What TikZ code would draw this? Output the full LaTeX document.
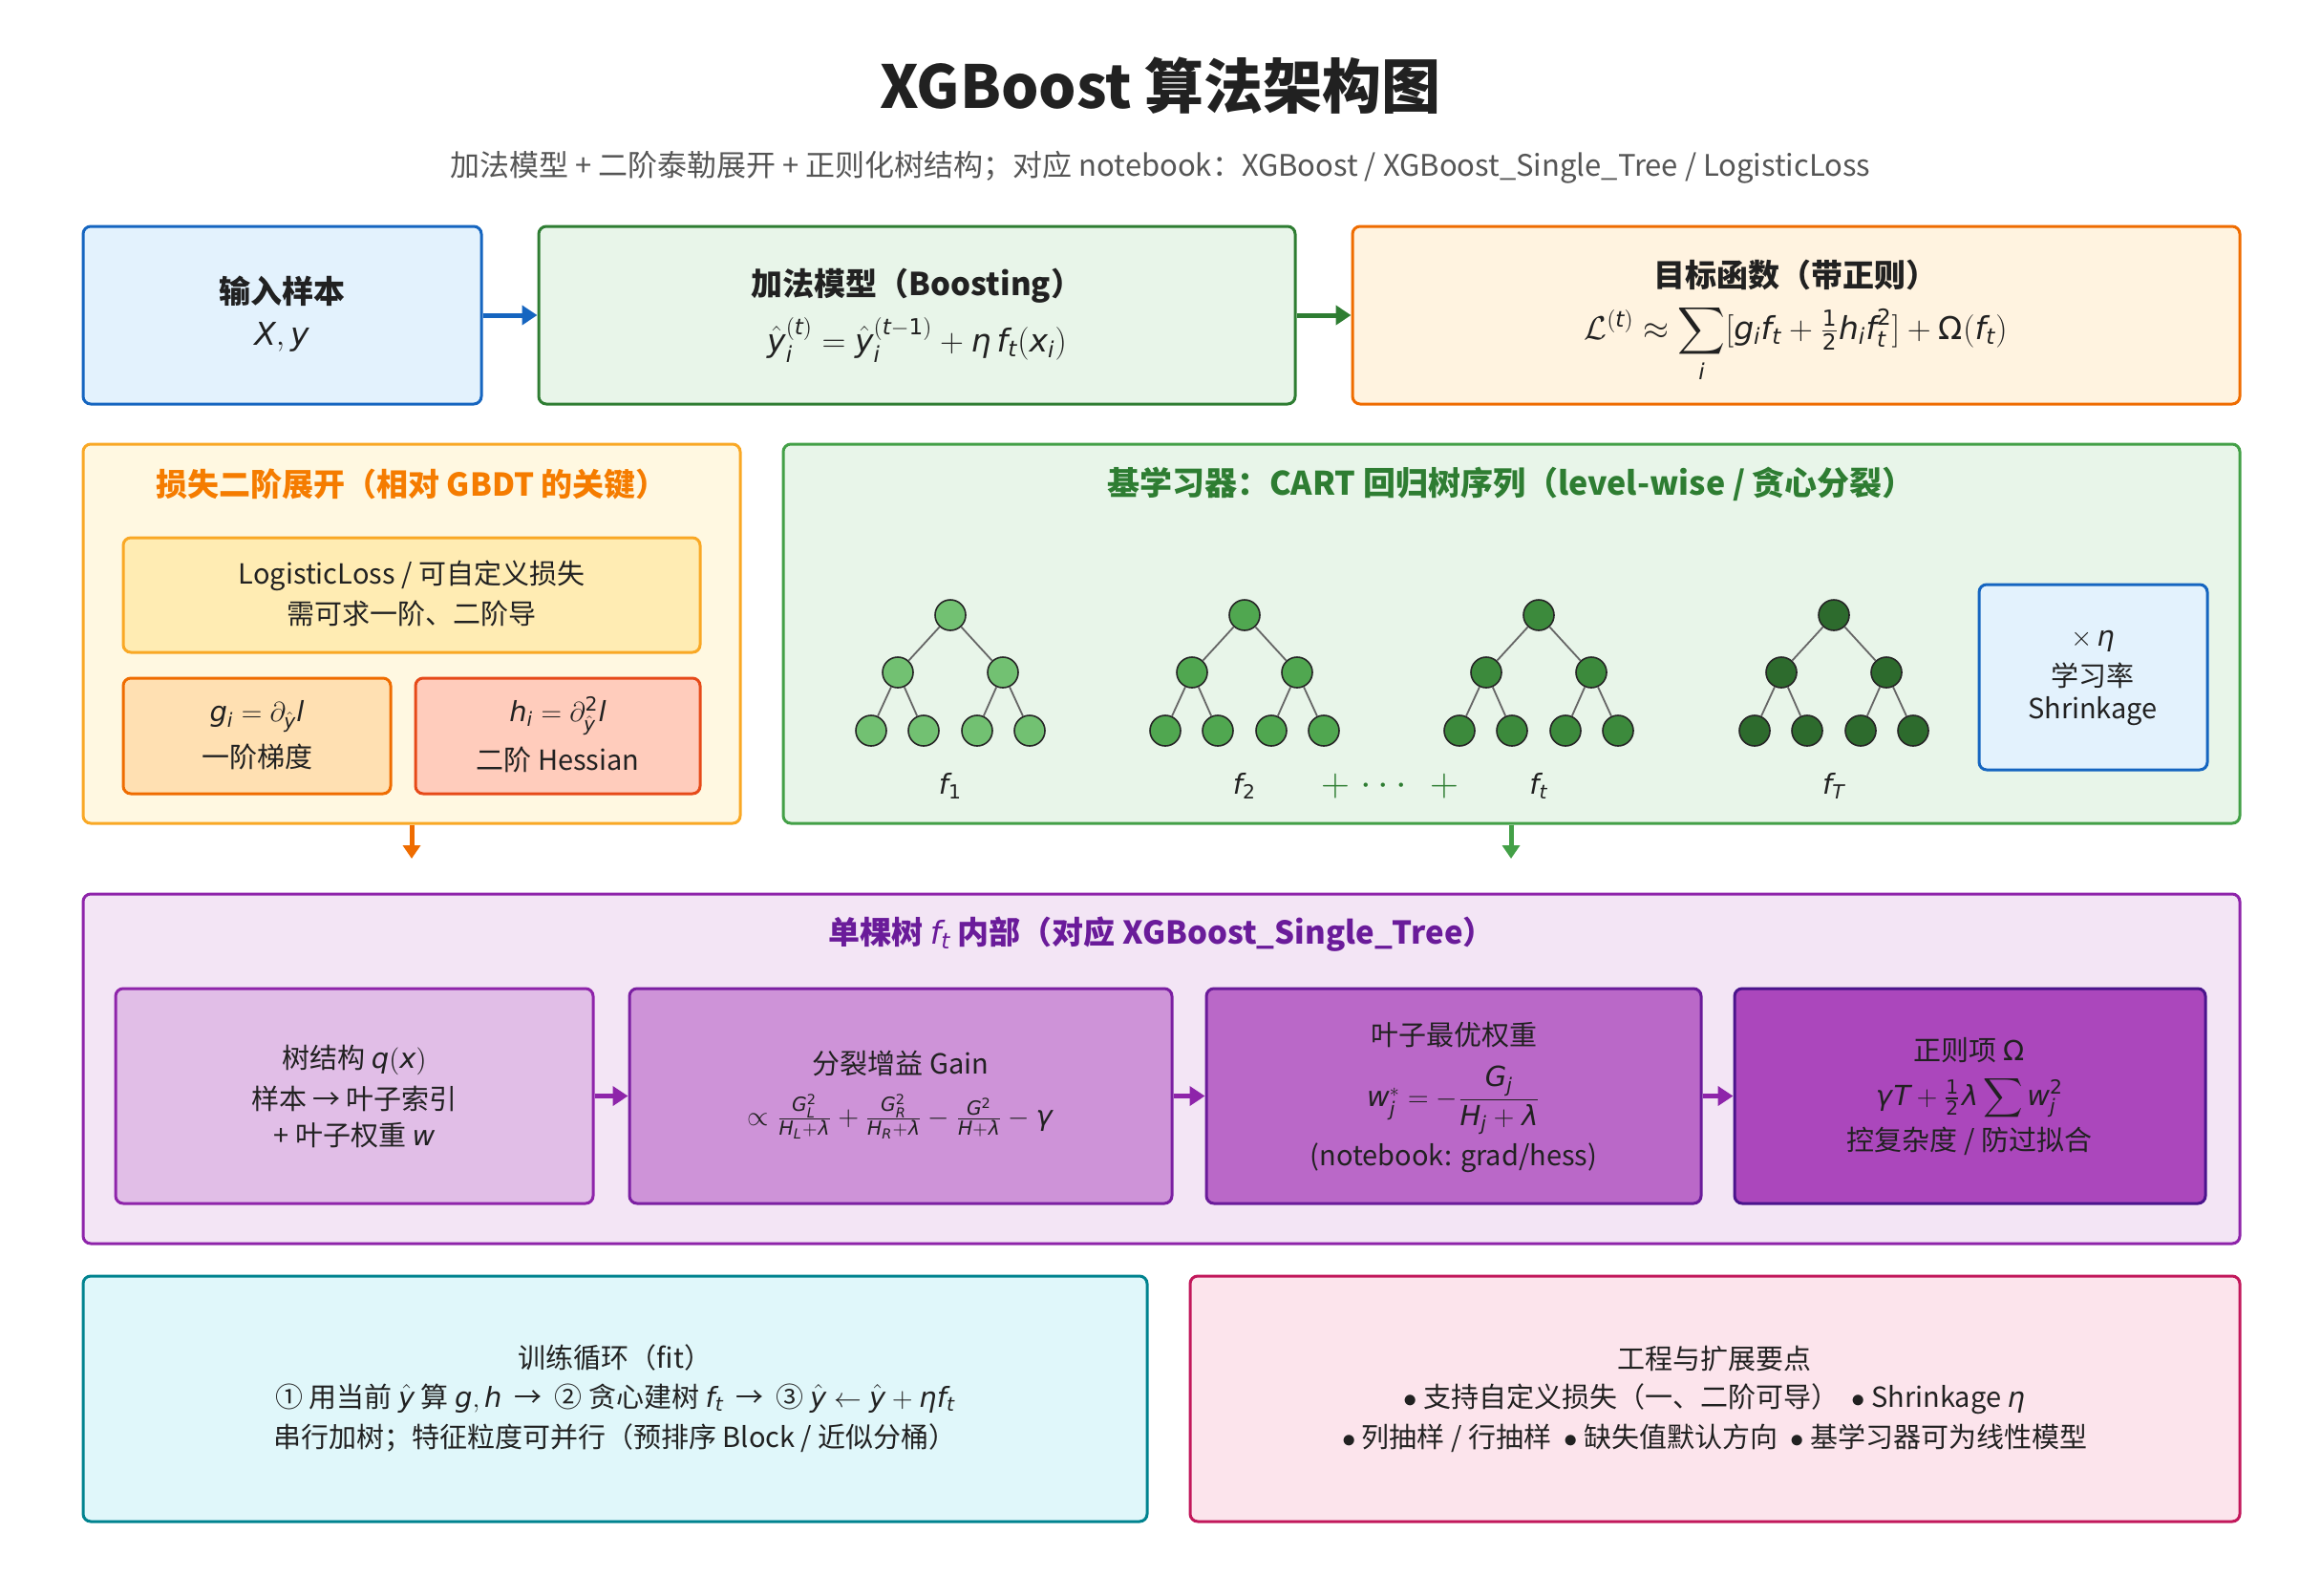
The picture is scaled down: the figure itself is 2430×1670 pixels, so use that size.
\documentclass[tikz,border=0pt]{standalone}
\usepackage{amsmath}
\usepackage{mathspec}
\setmainfont{Noto Sans CJK SC}
\setmathsfont(Digits,Latin,Greek){DejaVu Sans}
\usetikzlibrary{fit,arrows.meta,calc}
\definecolor{txt}{HTML}{212121}
\definecolor{subc}{HTML}{555555}
\definecolor{inF}{HTML}{E3F2FD}\definecolor{inD}{HTML}{1565C0}
\definecolor{boF}{HTML}{E8F5E9}\definecolor{boD}{HTML}{2E7D32}
\definecolor{obF}{HTML}{FFF3E0}\definecolor{obD}{HTML}{EF6C00}
\definecolor{lsF}{HTML}{FFF8E1}\definecolor{lsD}{HTML}{F9A825}\definecolor{lsT}{HTML}{F57C00}
\definecolor{llF}{HTML}{FFECB3}
\definecolor{gF}{HTML}{FFE0B2}\definecolor{gD}{HTML}{EF6C00}
\definecolor{hF}{HTML}{FFCCBC}\definecolor{hD}{HTML}{E64A19}
\definecolor{caD}{HTML}{43A047}
\definecolor{sgF}{HTML}{F3E5F5}\definecolor{sgD}{HTML}{8E24AA}\definecolor{sgT}{HTML}{6A1B9A}
\definecolor{qF}{HTML}{E1BEE7}
\definecolor{gaF}{HTML}{CE93D8}\definecolor{gaD}{HTML}{7B1FA2}
\definecolor{wF}{HTML}{BA68C8}\definecolor{wD}{HTML}{6A1B9A}
\definecolor{oF}{HTML}{AB47BC}\definecolor{oD}{HTML}{4A148C}
\definecolor{trF}{HTML}{E0F7FA}\definecolor{trD}{HTML}{00838F}
\definecolor{enF}{HTML}{FCE4EC}\definecolor{enD}{HTML}{C2185B}
\definecolor{tA}{HTML}{72C172}\definecolor{tB}{HTML}{50A750}
\definecolor{tC}{HTML}{3C8A3C}\definecolor{tD}{HTML}{2D6B2D}
\newcommand\bxx[6]{\node[box,#2,fit={(#3,#4)(#5,#6)}] (#1) {};}
\newcommand\tx[5]{\node[lbl,#4] (#1) at (#2,#3) {#5};}
\newcommand\gtree[3]{%
\node[tn,fill=#3] (#1r) at (#2,644) {};
\node[tn,fill=#3] (#1a) at (#2-55,704) {};
\node[tn,fill=#3] (#1b) at (#2+55,704) {};
\node[tn,fill=#3] (#1c) at (#2-83,765) {};
\node[tn,fill=#3] (#1d) at (#2-28,765) {};
\node[tn,fill=#3] (#1e) at (#2+28,765) {};
\node[tn,fill=#3] (#1f) at (#2+83,765) {};
\draw[tedge] (#1r)--(#1a) (#1r)--(#1b) (#1a)--(#1c) (#1a)--(#1d) (#1b)--(#1e) (#1b)--(#1f);}
\begin{document}
\begin{tikzpicture}[x=0.5pt,y=-0.5pt,
 box/.style={draw,rounded corners=4pt,line width=1.5pt,inner sep=0pt},
 lbl/.style={align=center,text=txt,inner sep=0pt},
 fbig/.style={font=\fontsize{16.5}{22}\selectfont},
 fbb/.style={font=\fontsize{16.5}{22}\selectfont\bfseries},
 fmid/.style={font=\fontsize{14.5}{20}\selectfont},
 arr/.style={line width=2.5pt,-{Triangle[length=8pt,width=10pt]}},
 tn/.style={circle,draw=black!85,line width=0.8pt,minimum size=16pt,inner sep=0pt},
 tedge/.style={draw=black!60,line width=0.9pt},
]
\fill[white] (0,0) rectangle (2430,1670);
\useasboundingbox (0,0) rectangle (2430,1670);
\node[lbl,font=\fontsize{31}{36}\selectfont\bfseries] (title) at (1215,90) {XGBoost 算法架构图};
\node[lbl,text=subc,font=\fontsize{15.5}{18}\selectfont] (subtitle) at (1215,175) {加法模型 + 二阶泰勒展开 + 正则化树结构；对应 notebook：XGBoost / XGBoost\_Single\_Tree / LogisticLoss};
% row 1
\bxx{inp}{fill=inF,draw=inD}{87}{237}{504}{423}
\tx{inpA}{295}{305}{fbb}{输入样本}
\tx{inpB}{295}{353}{fbig}{$X, y$}
\bxx{boost}{fill=boF,draw=boD}{564}{237}{1356}{423}
\tx{boostA}{960}{299}{fbb}{加法模型（Boosting）}
\tx{boostB}{960}{356}{fbig}{$\hat{y}_i^{(t)} = \hat{y}_i^{(t-1)} + \eta\, f_t(x_i)$}
\bxx{obj}{fill=obF,draw=obD}{1416}{237}{2345}{423}
\tx{objA}{1880}{288}{fbb}{目标函数（带正则）}
\node[lbl,fbig,anchor=base] (objB) at (1880,355) {$\mathcal{L}^{(t)} \approx \displaystyle\sum_i [g_i f_t + \tfrac{1}{2} h_i f_t^2] + \Omega(f_t)$};
\draw[arr,inD] (inp) -- (boost);
\draw[arr,boD] (boost) -- (obj);
% row 2 left
\bxx{loss}{fill=lsF,draw=lsD}{87}{465}{775}{862}
\tx{losst}{431}{507}{text=lsT,font=\fontsize{16.5}{20}\selectfont\bfseries}{损失二阶展开（相对 GBDT 的关键）}
\bxx{logl}{fill=llF,draw=lsD}{129}{563}{733}{683}
\tx{loglA}{431}{603}{fmid}{LogisticLoss / 可自定义损失}
\tx{loglB}{431}{642}{fmid}{需可求一阶、二阶导}
\bxx{gbox}{fill=gF,draw=gD}{129}{710}{409}{831}
\tx{gA}{269}{750}{fmid}{$g_i = \partial_{\hat{y}} l$}
\tx{gB}{269}{792}{fmid}{一阶梯度}
\bxx{hbox}{fill=hF,draw=hD}{435}{710}{733}{831}
\tx{hA}{584}{750}{fmid}{$h_i = \partial^2_{\hat{y}} l$}
\tx{hB}{584}{795}{fmid}{二阶 Hessian}
% row 2 right
\bxx{cart}{fill=boF,draw=caD}{820}{465}{2345}{862}
\tx{cartt}{1582}{507}{text=boD,font=\fontsize{17}{20}\selectfont\bfseries}{基学习器：CART 回归树序列（level-wise / 贪心分裂）}
\gtree{ta}{995}{tA}
\gtree{tb}{1303}{tB}
\gtree{tc}{1611}{tC}
\gtree{td}{1920}{tD}
\tx{la}{995}{823}{fmid}{$f_1$}
\tx{lb}{1303}{823}{fmid}{$f_2$}
\tx{lc}{1611}{823}{fmid}{$f_t$}
\tx{ld}{1920}{823}{fmid}{$f_T$}
\tx{plA}{1398}{823}{text=boD,font=\fontsize{20}{20}\selectfont}{$+$}
\tx{dots}{1452}{823}{text=boD,font=\fontsize{20}{20}\selectfont}{$\cdots$}
\tx{plB}{1512}{823}{text=boD,font=\fontsize{20}{20}\selectfont}{$+$}
\bxx{shr}{fill=inF,draw=inD}{2072}{612}{2311}{806}
\tx{shrA}{2191}{671}{fmid}{$\times\,\eta$}
\tx{shrB}{2191}{707}{fmid}{学习率}
\tx{shrC}{2191}{745}{fmid}{Shrinkage}
\coordinate (lossEnd) at (431,899);
\coordinate (cartEnd) at (1582,899);
\draw[line width=2.5pt,obD,-{Triangle[length=7pt,width=9pt]}] (loss.south) -- (lossEnd);
\draw[line width=2.5pt,caD,-{Triangle[length=7pt,width=9pt]}] (cart.south -| cartEnd) -- (cartEnd);
% row 3
\bxx{single}{fill=sgF,draw=sgD}{87}{936}{2345}{1302}
\tx{singlet}{1216}{978}{text=sgT,font=\fontsize{16.5}{20}\selectfont\bfseries}{单棵树 $f_t$ 内部（对应 XGBoost\_Single\_Tree）}
\bxx{qx}{fill=qF,draw=sgD}{121}{1035}{621}{1260}
\tx{qA}{371}{1110}{fmid}{树结构 $q(x)$}
\tx{qB}{371}{1150}{fmid}{样本 → 叶子索引}
\tx{qC}{371}{1189}{fmid}{+ 叶子权重 $w$}
\bxx{gain}{fill=gaF,draw=gaD}{659}{1035}{1227}{1260}
\tx{gaA}{943}{1113}{fmid}{分裂增益 Gain}
\tx{gaB}{943}{1169}{fmid}{$\propto \frac{G_L^2}{H_L+\lambda} + \frac{G_R^2}{H_R+\lambda} - \frac{G^2}{H+\lambda} - \gamma$}
\bxx{wt}{fill=wF,draw=wD}{1263}{1035}{1781}{1260}
\tx{wA}{1522}{1084}{fmid}{叶子最优权重}
\tx{wB}{1522}{1152}{fmid}{$w_j^* = -\dfrac{G_j}{H_j+\lambda}$}
\tx{wC}{1522}{1212}{fmid}{(notebook: grad/hess)}
\bxx{om}{fill=oF,draw=oD}{1816}{1035}{2309}{1260}
\tx{oA}{2062}{1100}{fmid}{正则项 $\Omega$}
\tx{oB}{2062}{1150}{fmid}{$\gamma T + \tfrac{1}{2}\lambda \displaystyle\sum w_j^2$}
\tx{oC}{2062}{1195}{fmid}{控复杂度 / 防过拟合}
\draw[arr,sgD] (qx) -- (gain);
\draw[arr,sgD] (gain) -- (wt);
\draw[arr,sgD] (wt) -- (om);
% row 4
\bxx{train}{fill=trF,draw=trD}{87}{1336}{1201}{1593}
\tx{trA}{644}{1421}{fmid}{训练循环（fit）}
\tx{trB}{644}{1464}{fmid}{① 用当前 $\hat{y}$ 算 $g, h$ \ → \ ② 贪心建树 $f_t$ \ → \ ③ $\hat{y} \leftarrow \hat{y} + \eta f_t$}
\tx{trC}{644}{1506}{fmid}{串行加树；特征粒度可并行（预排序 Block / 近似分桶）}
\bxx{eng}{fill=enF,draw=enD}{1246}{1336}{2345}{1593}
\tx{enA}{1795}{1423}{fmid}{工程与扩展要点}
\tx{enB}{1795}{1465}{fmid}{$\bullet$ 支持自定义损失（一、二阶可导） \ $\bullet$ Shrinkage $\eta$}
\tx{enC}{1795}{1506}{fmid}{$\bullet$ 列抽样 / 行抽样 \ $\bullet$ 缺失值默认方向 \ $\bullet$ 基学习器可为线性模型}
\end{tikzpicture}
\end{document}
